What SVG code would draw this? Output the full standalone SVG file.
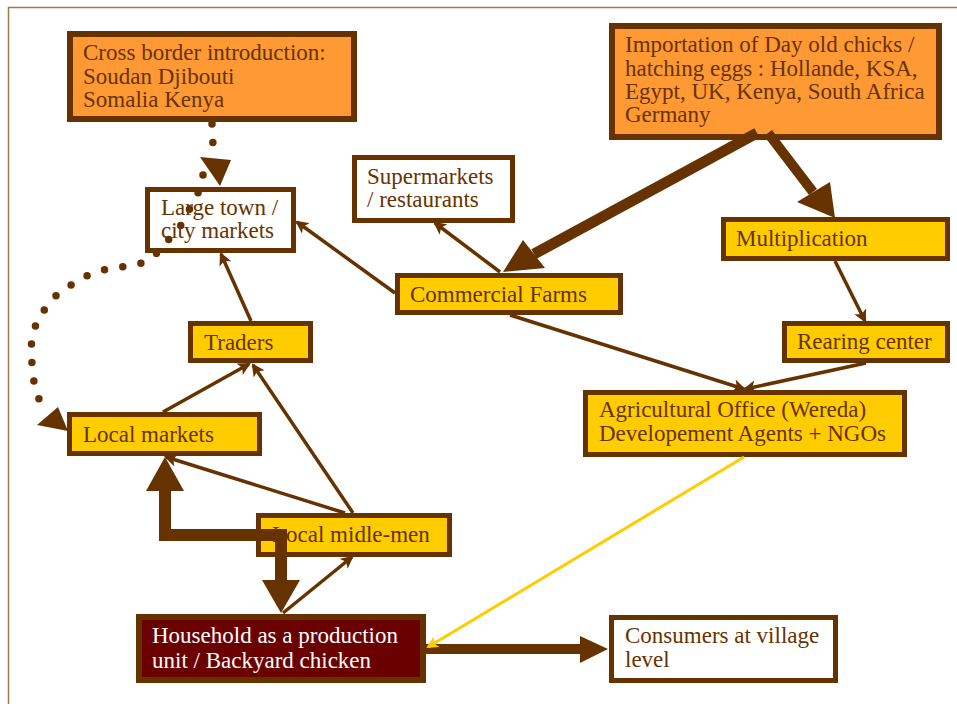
<svg xmlns="http://www.w3.org/2000/svg" width="957" height="704" viewBox="0 0 957 704">
<style>
.frame{fill:none;stroke:#A07850;stroke-width:1.5}
.box{stroke:#663300;stroke-width:5}
.thick{stroke-width:6}
.org{fill:#FF9933}
.yel{fill:#FFCC00}
.wht{fill:#FFFFFF}
.hh{fill:#6B0000}
text{font-family:"Liberation Serif","Times New Roman",serif;font-size:23px;fill:#663300}
text.light{fill:#FFFFFF}
.ln{fill:none;stroke:#663300;stroke-width:3.5;marker-end:url(#ah)}
.big{fill:none;stroke:#663300;stroke-linejoin:miter}
.head{fill:#663300}
.dot{fill:none;stroke:#663300;stroke-width:7.5;stroke-linecap:round;stroke-dasharray:0 18.5}
.yl{fill:none;stroke:#FFCC00;stroke-width:3;marker-end:url(#ay)}
</style>
<defs>
<marker id="ah" viewBox="0 0 12 12" refX="10" refY="6" markerWidth="13" markerHeight="13" markerUnits="userSpaceOnUse" orient="auto">
<path d="M0,0 L12,6 L0,12 L3,6 z" fill="#663300"/>
</marker>
<marker id="ay" viewBox="0 0 12 12" refX="10" refY="6" markerWidth="12" markerHeight="12" markerUnits="userSpaceOnUse" orient="auto">
<path d="M0,0 L12,6 L0,12 L3,6 z" fill="#FFCC00"/>
</marker>
</defs>
<path class="frame" d="M8.5,704 L8.5,7.5 L957,7.5"/>

<g id="cross-border">
<rect class="box thick org" x="70" y="34" width="284" height="85"/>
<text x="83" y="60">Cross border introduction:</text>
<text x="83" y="84">Soudan Djibouti</text>
<text x="83" y="107">Somalia Kenya</text>
</g>
<g id="importation">
<rect class="box thick org" x="612" y="26" width="327" height="111"/>
<text x="625" y="52">Importation of Day old chicks /</text>
<text x="625" y="75.5">hatching eggs : Hollande, KSA,</text>
<text x="625" y="99">Egypt, UK, Kenya, South Africa</text>
<text x="625" y="122">Germany</text>
</g>
<g id="large-town">
<rect class="box wht" x="147.5" y="189.5" width="146" height="61"/>
<text x="161" y="215">Large town /</text>
<text x="161" y="238">city markets</text>
</g>
<g id="supermarkets">
<rect class="box wht" x="354.5" y="157.5" width="158" height="63"/>
<text x="367" y="184">Supermarkets</text>
<text x="367" y="207">/ restaurants</text>
</g>
<g id="commercial-farms">
<rect class="box yel" x="397.5" y="275.5" width="223" height="37"/>
<text x="410" y="302">Commercial Farms</text>
</g>
<g id="multiplication">
<rect class="box yel" x="723.5" y="219.5" width="224" height="39"/>
<text x="736" y="246">Multiplication</text>
</g>
<g id="rearing-center">
<rect class="box yel" x="784.5" y="323.5" width="163" height="37"/>
<text x="797" y="349">Rearing center</text>
</g>
<g id="traders">
<rect class="box yel" x="190.5" y="323.5" width="120" height="37"/>
<text x="204" y="350">Traders</text>
</g>
<g id="local-markets">
<rect class="box yel" x="69.5" y="414.5" width="190" height="39"/>
<text x="83" y="442">Local markets</text>
</g>
<g id="local-midle-men">
<rect class="box yel" x="258.5" y="515.5" width="191" height="39"/>
<text x="272" y="542">Local midle-men</text>
</g>
<g id="agricultural-office">
<rect class="box yel" x="585.5" y="392.5" width="319" height="62"/>
<text x="599" y="417">Agricultural Office (Wereda)</text>
<text x="599" y="441">Developement Agents + NGOs</text>
</g>
<g id="household">
<rect class="box thick hh" x="139" y="617" width="284" height="63"/>
<text class="light" x="152" y="643">Household as a production</text>
<text class="light" x="152" y="668">unit / Backyard chicken</text>
</g>
<g id="consumers">
<rect class="box wht" x="611.5" y="617.5" width="224" height="63"/>
<text x="625" y="643">Consumers at village</text>
<text x="625" y="667">level</text>
</g>

<g id="connectors">
<path class="dot" d="M212,124 L213,145"/>
<polygon class="head" points="200,157 231,160 220,186"/>
<path class="dot" d="M203,175 L198,193 L190,208 L182,224 L170,238 L157,253 L142,263 L122,267 L103,270 L84,277 L68,287 L53,298 L42,313 L34,329 L31,347 L32,364 L34,382 L39,399"/>
<polygon class="head" points="37,425 58,407 68,431"/>

<path class="big" stroke-width="11" d="M757,133 L534,254"/>
<polygon class="head" points="523,240 545,268 503,272"/>
<path class="big" stroke-width="10" d="M768,133 L813,192"/>
<polygon class="head" points="797,202 830,182 835,218"/>

<path class="ln" d="M500,272 L435,223"/>
<path class="ln" d="M395,293 L297,222"/>
<path class="ln" d="M251,321 L221,254"/>
<path class="ln" d="M163,412 L249,364"/>
<path class="ln" d="M353,513 L253,365"/>
<path class="ln" d="M345,513 L166,457"/>
<path class="ln" d="M283,613 L352,557"/>
<path class="ln" d="M835,261 L865,321"/>
<path class="ln" d="M866,363 L745,389"/>
<path class="ln" d="M510,315 L744,389"/>

<path class="big" stroke-width="12" d="M281,582 L281,535 L165,535 L165,490"/>
<polygon class="head" points="262,580 300,580 281,613"/>
<polygon class="head" points="146,491 184,491 165,457"/>

<path class="big" stroke-width="10" d="M423,649 L581,649"/>
<polygon class="head" points="580,636 608,649 580,663"/>

<path class="yl" d="M744,457 L428,647"/>
</g>
</svg>
